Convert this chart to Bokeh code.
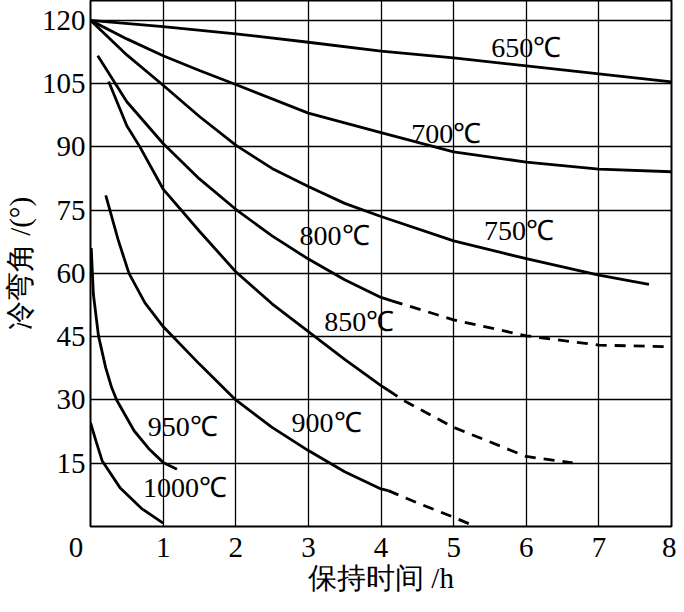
from bokeh.plotting import figure
from bokeh.models import Range1d, FixedTicker
from bokeh.core.properties import value
from bokeh.embed import file_html
from bokeh.resources import INLINE

SERIF = "Liberation Serif"

# ---- data ----
x650 = [0, 1, 2, 3, 4, 5, 6, 7, 8]
y650 = [120, 118.5, 116.8, 114.8, 112.7, 111.1, 109.2, 107.3, 105.4]

x700 = [0, 0.5, 1, 1.5, 2, 3, 4, 5, 6, 7, 8]
y700 = [120, 115.6, 111.6, 108.1, 104.8, 98.0, 93.4, 88.8, 86.4, 84.7, 84.1]

x750 = [0, 0.5, 1, 1.5, 2, 2.5, 3, 3.5, 4, 5, 6, 7, 7.69]
y750 = [120, 111.8, 104.6, 97.2, 90.4, 84.9, 80.6, 76.6, 73.5, 67.7, 63.5, 59.6, 57.4]

x800 = [0.1, 0.5, 1, 1.5, 2, 2.5, 3, 3.5, 4, 4.15]
y800 = [111.6, 100.7, 90.8, 82.4, 75.2, 68.9, 63.4, 58.5, 54.3, 53.5]
x800d = [4.15, 5, 6, 7, 8]
y800d = [53.5, 49.0, 45.2, 43.0, 42.6]

x850 = [0.25, 0.5, 0.68, 1, 1.5, 2, 2.5, 3, 3.5, 4, 4.1]
y850 = [105.5, 95.0, 90.0, 80.0, 70.0, 60.4, 52.8, 46.2, 39.6, 33.4, 32.3]
x850d = [4.1, 4.3, 5, 6, 6.64]
y850d = [32.3, 30.0, 23.5, 16.6, 15.1]

x900 = [0.21, 0.38, 0.53, 0.75, 1, 1.5, 2, 2.5, 3, 3.5, 4, 4.1]
y900 = [78.5, 68.0, 60.0, 53.0, 47.4, 38.5, 30.0, 23.5, 18.0, 13.0, 8.9, 8.5]
x900d = [4.1, 4.5, 5, 5.3]
y900d = [8.5, 5.6, 2.2, 0.0]

x950 = [0.01, 0.04, 0.11, 0.21, 0.29, 0.36, 0.6, 0.8, 1.0, 1.19]
y950 = [66.0, 55.0, 45.2, 37.6, 33.0, 30.0, 22.7, 18.5, 15.2, 13.6]

x1000 = [0.0, 0.08, 0.16, 0.41, 0.7, 1.0]
y1000 = [24.6, 20.0, 15.6, 9.1, 4.3, 0.8]

lab_text = ["650℃", "700℃", "750℃", "800℃", "850℃", "900℃", "950℃", "1000℃"]
lab_x = [6.0, 4.9, 5.9, 3.36, 3.7, 3.25, 1.27, 1.3]
lab_y = [113.6, 93.2, 70.1, 69.0, 48.5, 24.7, 23.8, 9.2]

x_ticks = [0, 1, 2, 3, 4, 5, 6, 7, 8]
y_ticks = [15, 30, 45, 60, 75, 90, 105, 120]

x_title = "保持时间 /h"
y_title = "冷弯角 /(°)"

# ---- figure ----
p = figure(width=676, height=596, output_backend="svg", toolbar_location=None,
           x_range=Range1d(0, 8), y_range=Range1d(0, 124.7),
           min_border_left=84, min_border_right=5, min_border_top=0, min_border_bottom=66)

p.background_fill_color = "white"
p.border_fill_color = "white"
p.outline_line_color = "black"
p.outline_line_width = 2

p.xaxis.ticker = FixedTicker(ticks=x_ticks)
p.yaxis.ticker = FixedTicker(ticks=y_ticks)
# the shared origin "0" sits left of the corner
p.xaxis.major_label_overrides = {0: "0\u00a0\u00a0\u00a0\u00a0"}

for ax in (p.xaxis[0], p.yaxis[0]):
    ax.axis_line_color = None
    ax.major_tick_line_color = None
    ax.minor_tick_line_color = None
    ax.major_tick_out = 0
    ax.major_tick_in = 0
    ax.minor_tick_out = 0
    ax.minor_tick_in = 0
    ax.major_label_text_font = SERIF
    ax.major_label_text_font_size = "29px"
    ax.major_label_text_color = "black"
    ax.axis_label_text_font = SERIF
    ax.axis_label_text_font_size = "29px"
    ax.axis_label_text_font_style = "normal"
    ax.axis_label_text_color = "black"

p.xaxis.axis_label = x_title
p.yaxis.axis_label = y_title
p.xaxis.major_label_standoff = 4
p.xaxis.axis_label_standoff = -4
p.yaxis.major_label_standoff = 5
p.yaxis.axis_label_standoff = 3

p.xgrid.ticker = FixedTicker(ticks=[1, 2, 3, 4, 5, 6, 7])
p.ygrid.ticker = FixedTicker(ticks=[15, 30, 45, 60, 75, 90, 105, 120])
for g in (p.xgrid[0], p.ygrid[0]):
    g.grid_line_color = "black"
    g.grid_line_width = 1.3
    g.grid_line_alpha = 1.0

LW = 2.8
solid = [(x650, y650), (x700, y700), (x750, y750), (x800, y800), (x850, y850),
         (x900, y900), (x950, y950), (x1000, y1000)]
for xs, ys in solid:
    p.line(xs, ys, line_color="black", line_width=LW)

dashed = [(x800d, y800d), (x850d, y850d), (x900d, y900d)]
for xs, ys in dashed:
    p.line(xs, ys, line_color="black", line_width=LW, line_dash="11 8")

p.text(x=lab_x, y=lab_y, text=lab_text, text_font=value(SERIF),
       text_font_size="28px", text_color="black",
       text_align="center", text_baseline="middle")

open("out.html", "w").write(file_html(p, INLINE))
